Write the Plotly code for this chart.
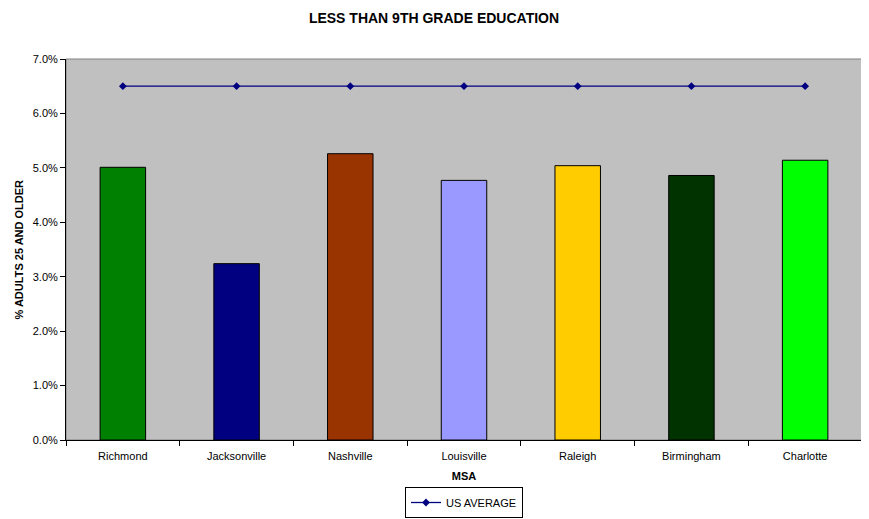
import plotly.graph_objects as go

categories = ["Richmond", "Jacksonville", "Nashville", "Louisville", "Raleigh", "Birmingham", "Charlotte"]
msa_values = [0.0501, 0.0324, 0.0526, 0.0477, 0.0504, 0.0486, 0.0514]
us_average = [0.065, 0.065, 0.065, 0.065, 0.065, 0.065, 0.065]
bar_colors = ["#008000", "#000080", "#993300", "#9999FF", "#FFCC00", "#003300", "#00FF00"]

FONT = "Liberation Sans, Arial, sans-serif"
W, H = 861, 511  # page body has an 8px margin inside the 869x519 window
L, R, T, B = 58, 7, 51, 79
PW, PH = W - L - R, H - T - B

fig = go.Figure()
fig.add_trace(go.Bar(
    x=categories, y=msa_values,
    marker=dict(color=bar_colors, line=dict(color="black", width=1)),
    showlegend=False, hoverinfo="skip",
))
fig.add_trace(go.Scatter(
    x=categories, y=us_average, mode="lines+markers", name="US AVERAGE",
    line=dict(color="#000080", width=1.3),
    marker=dict(symbol="diamond", size=6, color="#000080"),
))

fig.update_layout(
    width=W, height=H,
    margin=dict(l=L, r=R, t=T, b=B, autoexpand=False),
    paper_bgcolor="white", plot_bgcolor="#C0C0C0",
    font=dict(family=FONT, size=11, color="black"),
    title=dict(text="<b>LESS THAN 9TH GRADE EDUCATION</b>", x=426 / W, xanchor="center",
               y=1 - 10 / H, yanchor="middle", font=dict(size=14, family=FONT)),
    bargap=0.6,
    showlegend=True,
    legend=dict(orientation="h", x=0.5, xanchor="center", y=-(510 - (H - B)) / PH, yanchor="bottom",
                bordercolor="black", borderwidth=1, font=dict(size=11),
                itemwidth=30, tracegroupgap=0),
    shapes=[dict(type="rect", xref="x domain", yref="y domain", x0=0, x1=1, y0=0, y1=1,
                 line=dict(color="#808080", width=1), layer="below")],
    annotations=[dict(text="<b>% ADULTS 25 AND OLDER</b>", textangle=-90, showarrow=False,
                      xref="paper", yref="paper", x=(10 - L) / PW, y=0.5,
                      xanchor="center", yanchor="middle", font=dict(size=11))],
)
fig.update_xaxes(
    automargin=False,
    showgrid=False, showline=True, linecolor="black", linewidth=1,
    ticks="outside", ticklen=5, tickcolor="black", tickson="boundaries",
    ticklabelstandoff=6,
    title=dict(text="<b>MSA</b>", font=dict(size=11), standoff=11),
    tickfont=dict(size=11),
)
fig.update_yaxes(
    automargin=False,
    range=[0, 0.07], dtick=0.01, tickformat=".1%", showgrid=False,
    showline=True, linecolor="black", linewidth=1,
    ticks="outside", ticklen=5, tickcolor="black",
    tickfont=dict(size=11), zeroline=False,
)

fig.write_html("out.html")
